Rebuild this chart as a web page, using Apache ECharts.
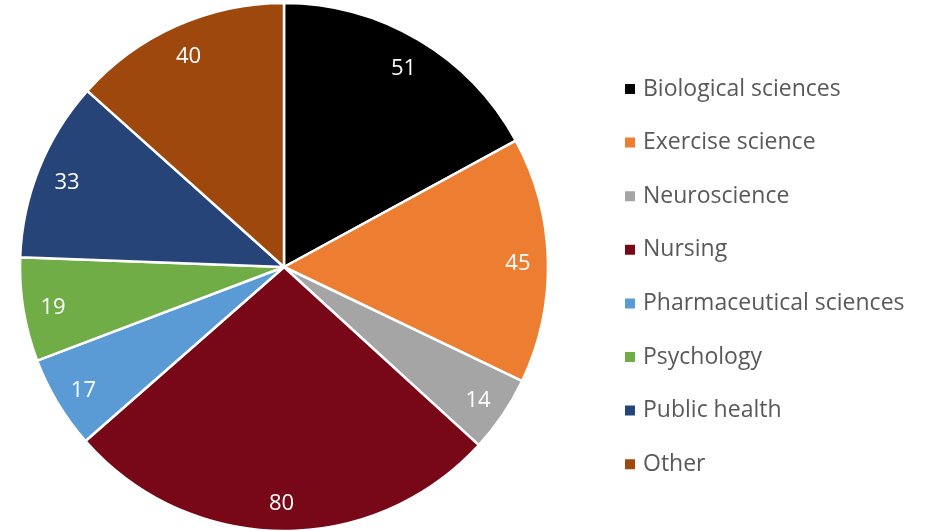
<!DOCTYPE html>
<html>
<head>
<meta charset="utf-8">
<script src="https://cdn.jsdelivr.net/npm/echarts@6/dist/echarts.min.js"></script>
<style>html,body{margin:0;padding:0;background:#fff;}#c{width:940px;height:531px;}</style>
</head>
<body>
<div id="c"></div>
<script>
const categories = ["Biological sciences","Exercise science","Neuroscience","Nursing","Pharmaceutical sciences","Psychology","Public health","Other"];
const values = [51,45,14,80,17,19,33,40];
const colors = ["#000000","#ED7D31","#A5A5A5","#780818","#5B9BD5","#70AD47","#264478","#9E480E"];

const FONT = "Open Sans";
const chart = echarts.init(document.getElementById('c'), null, {renderer:'canvas'});
const data = categories.map((n,i)=>({name:n, value:values[i], itemStyle:{color:colors[i]}}));
const overlay = categories.map((n,i)=>({name:n, value:values[i]}));
chart.setOption({
  animation:false,
  legend:{
    orient:'vertical',
    left:623, top:77, padding:0,
    icon:'rect', itemWidth:12, itemHeight:12,
    itemGap:29.6,
    data:categories,
    textStyle:{fontFamily:FONT, fontSize:23, color:'#595959', lineHeight:24, padding:[0,0,0,2]},
    selectedMode:false
  },
  series:[
    {
      type:'pie', center:[284,267], radius:[0,264],
      startAngle:90, clockwise:true,
      data:data,
      label:{show:false}, labelLine:{show:false},
      itemStyle:{borderColor:'#fff', borderWidth:2.5},
      emphasis:{disabled:true}
    },
    {
      type:'pie', center:[284,270], radius:[198,264],
      startAngle:90, clockwise:true,
      data:overlay,
      silent:true, legendHoverLink:false,
      itemStyle:{color:'rgba(0,0,0,0)', borderWidth:0},
      label:{show:true, position:'inside', color:'#fff', fontFamily:FONT, fontSize:22, formatter:'{c}'},
      labelLine:{show:false},
      emphasis:{disabled:true}
    }
  ]
});
</script>
</body>
</html>
